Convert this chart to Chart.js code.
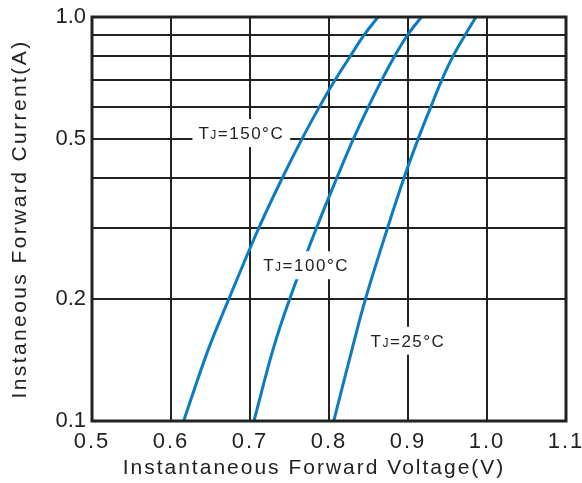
<!DOCTYPE html>
<html>
<head>
<meta charset="utf-8">
<script src="https://cdn.jsdelivr.net/npm/chart.js@4"></script>
<style>
  body { margin: 0; background: #fff; }
  #wrap { width: 582px; height: 483px; }
</style>
</head>
<body>
<div id="wrap"><canvas id="chart" width="582" height="483"></canvas></div>
<script>
const current = [0.1, 0.15, 0.2, 0.3, 0.4, 0.5, 0.6, 0.7, 0.8, 0.9, 1.0];
const volt150 = [0.616, 0.647, 0.673, 0.711, 0.741, 0.766, 0.788, 0.808, 0.827, 0.844, 0.862];
const volt100 = [0.705, 0.729, 0.750, 0.784, 0.810, 0.831, 0.850, 0.867, 0.883, 0.899, 0.917];
const volt25 = [0.806, 0.829, 0.846, 0.874, 0.895, 0.913, 0.929, 0.943, 0.957, 0.972, 0.986];
const xTicks = [0.5, 0.6, 0.7, 0.8, 0.9, 1.0, 1.1];
const yGrid = [0.1, 0.2, 0.3, 0.4, 0.5, 0.6, 0.7, 0.8, 0.9, 1.0];
const yLabels = [0.1, 0.2, 0.5, 1.0];
const xTitle = "Instantaneous Forward Voltage(V)";
const yTitle = "Instaneous Forward Current(A)";

// curve labels: [temperature, voltage, current] where the tag sits
const tags = [
  ["150", 0.689, 0.516],
  ["100", 0.771, 0.243],
  ["25", 0.900, 0.158]
];

const blue = "#0b7bc3";
const ink = "#222";
const FONT = "'Liberation Sans', Arial, sans-serif";

const toPoints = (vs) => vs.map((v, i) => ({ x: v, y: current[i] }));

// y tick labels are drawn tight, x tick labels (z: 1, after datasets) spaced out
const decor = {
  id: "decor",
  beforeDraw(chart) { chart.ctx.letterSpacing = "0px"; },
  afterDatasetsDraw(chart) {
    const ctx = chart.ctx;
    const xs = chart.scales.x, ys = chart.scales.y;
    ctx.save();
    tags.forEach(([t, v, a]) => {
      const cx = xs.getPixelForValue(v);
      const cy = ys.getPixelForValue(a);
      ctx.letterSpacing = "1.5px";
      ctx.font = "17px " + FONT;
      const wT = ctx.measureText("T").width;
      ctx.font = "12px " + FONT;
      const wJ = ctx.measureText("J").width;
      ctx.font = "17px " + FONT;
      const rest = "=" + t + "°C";
      const wR = ctx.measureText(rest).width;
      const w = wT + wJ + wR;
      ctx.fillStyle = "#fff";
      ctx.fillRect(cx - w / 2 - 6, cy - 14, w + 12, 28);
      ctx.fillStyle = ink;
      ctx.textBaseline = "alphabetic";
      let x = cx - w / 2;
      const base = cy + 6;
      ctx.fillText("T", x, base);
      x += wT;
      ctx.font = "12px " + FONT;
      ctx.fillText("J", x, base);
      x += wJ;
      ctx.font = "17px " + FONT;
      ctx.fillText(rest, x, base);
    });
    const a = chart.chartArea;
    ctx.strokeStyle = ink;
    ctx.lineWidth = 3;
    ctx.strokeRect(a.left, a.top, a.right - a.left, a.bottom - a.top);
    ctx.restore();
    ctx.letterSpacing = "2px";
  },
  afterDraw(chart) {
    const ctx = chart.ctx;
    const a = chart.chartArea;
    ctx.save();
    ctx.letterSpacing = "2px";
    ctx.font = "21px " + FONT;
    ctx.fillStyle = ink;
    ctx.textAlign = "center";
    ctx.textBaseline = "middle";
    ctx.fillText(xTitle, (a.left + a.right) / 2 - 15, 468);
    ctx.letterSpacing = "2.4px";
    ctx.translate(20, (a.top + a.bottom) / 2);
    ctx.rotate(-Math.PI / 2);
    ctx.fillText(yTitle, 0, 0);
    ctx.restore();
    ctx.letterSpacing = "0px";
  }
};

const lineSet = (label, vs) => ({
  label: label,
  data: toPoints(vs),
  showLine: true,
  borderColor: blue,
  borderWidth: 3,
  pointRadius: 0,
  tension: 0.35,
  fill: false
});

new Chart(document.getElementById("chart"), {
  type: "scatter",
  data: {
    datasets: [
      lineSet("TJ=150°C", volt150),
      lineSet("TJ=100°C", volt100),
      lineSet("TJ=25°C", volt25)
    ]
  },
  options: {
    responsive: false,
    animation: false,
    layout: { padding: { left: 8, top: 17, right: 16, bottom: 6 } },
    plugins: { legend: { display: false }, tooltip: { enabled: false } },
    scales: {
      x: {
        type: "linear",
        min: 0.5,
        max: 1.1,
        afterBuildTicks(scale) { scale.ticks = xTicks.map((v) => ({ value: v })); },
        afterFit(scale) { scale.height = 56; scale.paddingLeft = 0; scale.paddingRight = 0; },
        ticks: {
          z: 1,
          color: ink,
          font: { family: FONT, size: 22 },
          padding: 8,
          maxRotation: 0,
          callback: (v) => v.toFixed(1)
        },
        grid: { color: ink, lineWidth: 2, drawTicks: false },
        border: { display: false }
      },
      y: {
        type: "logarithmic",
        min: 0.1,
        max: 1.0,
        afterBuildTicks(scale) { scale.ticks = yGrid.map((v) => ({ value: v })); },
        afterFit(scale) { scale.width = 84; scale.paddingTop = 0; scale.paddingBottom = 0; },
        ticks: {
          color: ink,
          font: { family: FONT, size: 22 },
          padding: 6,
          autoSkip: false,
          callback: (v) => {
            const r = Math.round(v * 10) / 10;
            return yLabels.includes(r) ? r.toFixed(1) : "";
          }
        },
        grid: { color: ink, lineWidth: 2, drawTicks: false },
        border: { display: false }
      }
    }
  },
  plugins: [decor]
});
</script>
</body>
</html>
